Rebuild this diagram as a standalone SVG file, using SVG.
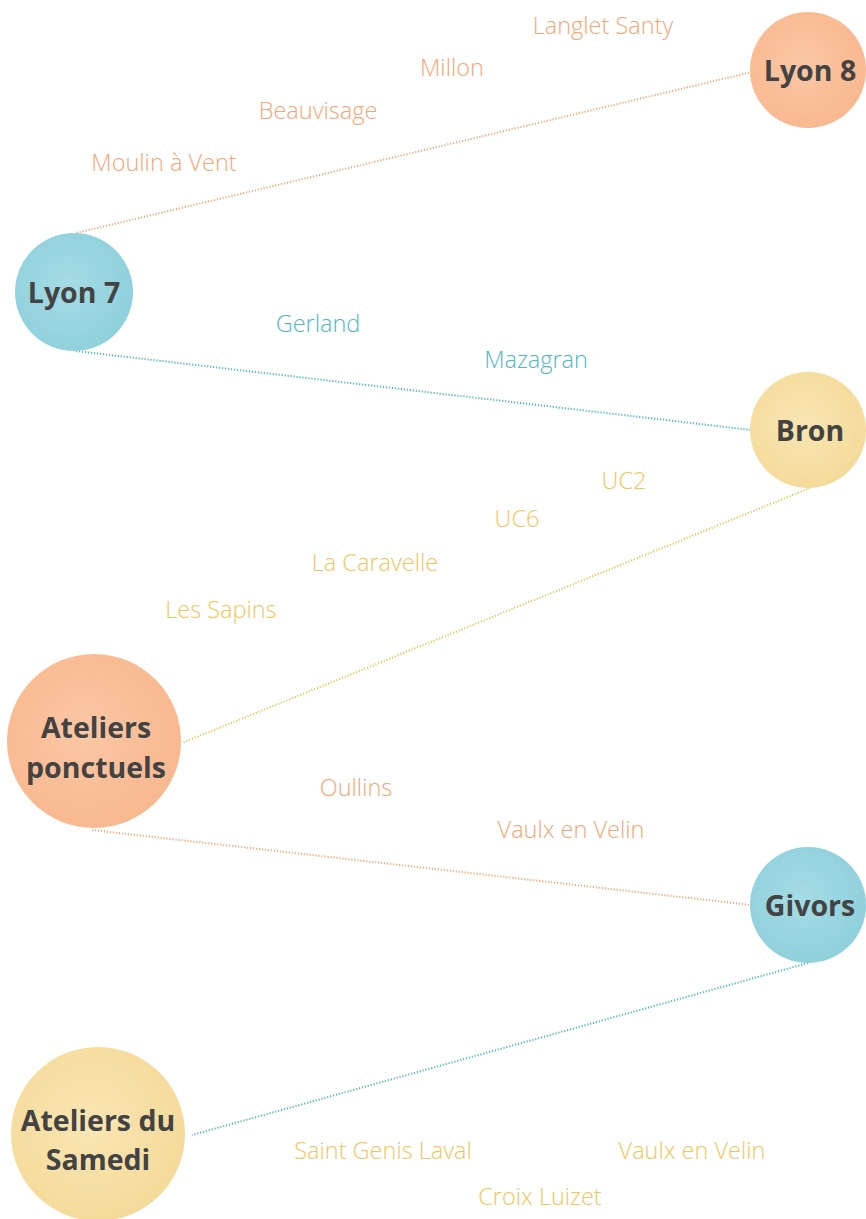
<svg xmlns="http://www.w3.org/2000/svg" width="866" height="1219" viewBox="0 0 866 1219">
<defs>
<radialGradient id="gO" cx="45%" cy="45%" r="65%"><stop offset="0" stop-color="#fbc7a5"/><stop offset="1" stop-color="#f8b68c"/></radialGradient>
<radialGradient id="gB" cx="45%" cy="45%" r="65%"><stop offset="0" stop-color="#a6dbe4"/><stop offset="1" stop-color="#8bcfdb"/></radialGradient>
<radialGradient id="gY" cx="45%" cy="45%" r="65%"><stop offset="0" stop-color="#f9e6b4"/><stop offset="1" stop-color="#f4d996"/></radialGradient>
</defs>
<style>
.node text{font-family:"Open Sans","Liberation Sans",sans-serif;font-weight:700;font-size:28.5px;fill:#434343;text-anchor:middle}
.lbl{font-family:"Open Sans","Liberation Sans",sans-serif;font-weight:300;font-size:23.5px;text-anchor:middle}
.o{fill:#f3a676}.b{fill:#4eb8c8}.y{fill:#f0c65a}
.c{fill:none;stroke-width:2;stroke-dasharray:1.2 1.8}
</style>
<rect width="866" height="1219" fill="#ffffff"/>
<g id="connectors">
<line class="c" x1="752" y1="72" x2="76" y2="233" stroke="#f2a878"/>
<line class="c" x1="76" y1="351" x2="751" y2="430" stroke="#4fb6c8"/>
<line class="c" x1="810" y1="488" x2="182" y2="743" stroke="#efc454"/>
<line class="c" x1="92" y1="830" x2="751" y2="905" stroke="#f2a878"/>
<line class="c" x1="808" y1="963" x2="192" y2="1135" stroke="#4fb6c8"/>
</g>
<g id="labels">
<text class="lbl o" x="603" y="34">Langlet Santy</text>
<text class="lbl o" x="452" y="76">Millon</text>
<text class="lbl o" x="318" y="119">Beauvisage</text>
<text class="lbl o" x="164" y="171">Moulin à Vent</text>
<text class="lbl b" x="318" y="332">Gerland</text>
<text class="lbl b" x="536" y="368">Mazagran</text>
<text class="lbl y" x="624" y="489">UC2</text>
<text class="lbl y" x="517" y="527">UC6</text>
<text class="lbl y" x="375" y="571">La Caravelle</text>
<text class="lbl y" x="221" y="618">Les Sapins</text>
<text class="lbl o" x="356" y="796">Oullins</text>
<text class="lbl o" x="571" y="838">Vaulx en Velin</text>
<text class="lbl y" x="383" y="1159">Saint Genis Laval</text>
<text class="lbl y" x="692" y="1159">Vaulx en Velin</text>
<text class="lbl y" x="540" y="1205">Croix Luizet</text>
</g>
<g id="lyon8" class="node"><circle cx="808" cy="70" r="58" fill="url(#gO)"/><text x="810" y="81">Lyon 8</text></g>
<g id="lyon7" class="node"><circle cx="74" cy="292" r="59" fill="url(#gB)"/><text x="74" y="303">Lyon 7</text></g>
<g id="bron" class="node"><circle cx="808" cy="430" r="58" fill="url(#gY)"/><text x="810" y="441">Bron</text></g>
<g id="ateliers-ponctuels" class="node"><circle cx="94" cy="741" r="87" fill="url(#gO)"/><text x="96" y="738">Ateliers</text><text x="96" y="778">ponctuels</text></g>
<g id="givors" class="node"><circle cx="808" cy="905" r="58" fill="url(#gB)"/><text x="810" y="916">Givors</text></g>
<g id="ateliers-samedi" class="node"><circle cx="98" cy="1134" r="87" fill="url(#gY)"/><text x="98" y="1131">Ateliers du</text><text x="98" y="1170">Samedi</text></g>
</svg>
